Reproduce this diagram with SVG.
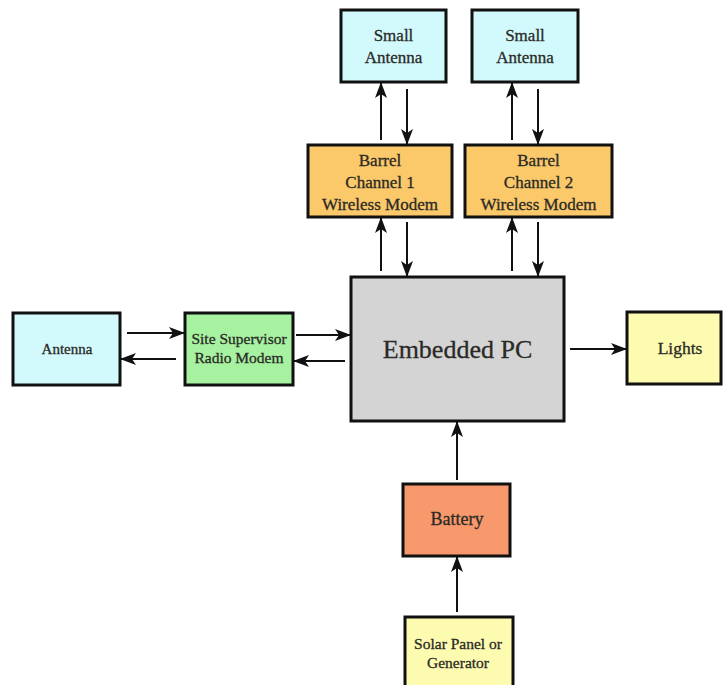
<svg xmlns="http://www.w3.org/2000/svg" width="723" height="685" viewBox="0 0 723 685">
  <style>
    .box { stroke: #111; stroke-width: 3; }
    .cyan { fill: #d2fafd; }
    .orange { fill: #fbc86a; }
    .green { fill: #a6f2a0; }
    .grey { fill: #d4d4d4; }
    .yellow { fill: #fdfbb0; }
    .salmon { fill: #f7996c; }
    text { font-family: "Liberation Serif", "Times New Roman", serif; fill: #2a2a26; stroke: #2a2a26; stroke-width: 0.3; text-anchor: middle; dominant-baseline: central; }
    .wire { stroke: #111; stroke-width: 2; fill: none; marker-end: url(#head); }
  </style>
  <defs>
    <marker id="head" viewBox="0 0 16 12" refX="15" refY="6" markerWidth="16" markerHeight="12" markerUnits="userSpaceOnUse" orient="auto">
      <path d="M0,0 L16,6 L0,12 L4,6 Z" fill="#111"/>
    </marker>
  </defs>
  <rect width="723" height="685" fill="#ffffff"/>

  <g id="small-antenna-1">
    <rect class="box cyan" x="341" y="10" width="105" height="72"/>
    <text x="393.5" y="35" font-size="17">Small</text>
    <text x="393.5" y="57" font-size="17">Antenna</text>
  </g>
  <g id="small-antenna-2">
    <rect class="box cyan" x="472" y="10" width="106" height="72"/>
    <text x="525" y="35" font-size="17">Small</text>
    <text x="525" y="57" font-size="17">Antenna</text>
  </g>
  <g id="barrel-1">
    <rect class="box orange" x="308" y="145" width="144" height="72"/>
    <text x="380" y="160" font-size="17">Barrel</text>
    <text x="380" y="182" font-size="17">Channel 1</text>
    <text x="380" y="204" font-size="17">Wireless Modem</text>
  </g>
  <g id="barrel-2">
    <rect class="box orange" x="465" y="145" width="147" height="72"/>
    <text x="538.5" y="160" font-size="17">Barrel</text>
    <text x="538.5" y="182" font-size="17">Channel 2</text>
    <text x="538.5" y="204" font-size="17">Wireless Modem</text>
  </g>
  <g id="antenna">
    <rect class="box cyan" x="13" y="313" width="107" height="72"/>
    <text x="67" y="349" font-size="15">Antenna</text>
  </g>
  <g id="radio-modem">
    <rect class="box green" x="185" y="313" width="108" height="72"/>
    <text x="239" y="338" font-size="15.5">Site Supervisor</text>
    <text x="239" y="357" font-size="15.5">Radio Modem</text>
  </g>
  <g id="embedded-pc">
    <rect class="box grey" x="351" y="277" width="213" height="144"/>
    <text x="457.5" y="349" font-size="26" stroke-width="0.2">Embedded PC</text>
  </g>
  <g id="lights">
    <rect class="box yellow" x="627" y="312" width="94" height="72"/>
    <text x="680" y="348" font-size="17.5">Lights</text>
  </g>
  <g id="battery">
    <rect class="box salmon" x="403" y="484" width="107" height="72"/>
    <text x="457" y="519" font-size="18">Battery</text>
  </g>
  <g id="power-source">
    <rect class="box yellow" x="405" y="617" width="108" height="72"/>
    <text x="458" y="643" font-size="15.5">Solar Panel or</text>
    <text x="458" y="662" font-size="15.5">Generator</text>
  </g>

  <g id="connectors">
    <line class="wire" x1="381" y1="140" x2="381" y2="83"/>
    <line class="wire" x1="407" y1="89" x2="407" y2="144"/>
    <line class="wire" x1="512" y1="140" x2="512" y2="83"/>
    <line class="wire" x1="538" y1="89" x2="538" y2="144"/>
    <line class="wire" x1="381" y1="271" x2="381" y2="218"/>
    <line class="wire" x1="407" y1="222" x2="407" y2="276"/>
    <line class="wire" x1="512" y1="271" x2="512" y2="218"/>
    <line class="wire" x1="538" y1="222" x2="538" y2="276"/>
    <line class="wire" x1="127" y1="333" x2="184" y2="333"/>
    <line class="wire" x1="176" y1="359" x2="121" y2="359"/>
    <line class="wire" x1="296" y1="335" x2="350" y2="335"/>
    <line class="wire" x1="345" y1="361" x2="294" y2="361"/>
    <line class="wire" x1="570" y1="349" x2="626" y2="349"/>
    <line class="wire" x1="457" y1="480" x2="457" y2="422"/>
    <line class="wire" x1="457" y1="612" x2="457" y2="557"/>
  </g>
</svg>
